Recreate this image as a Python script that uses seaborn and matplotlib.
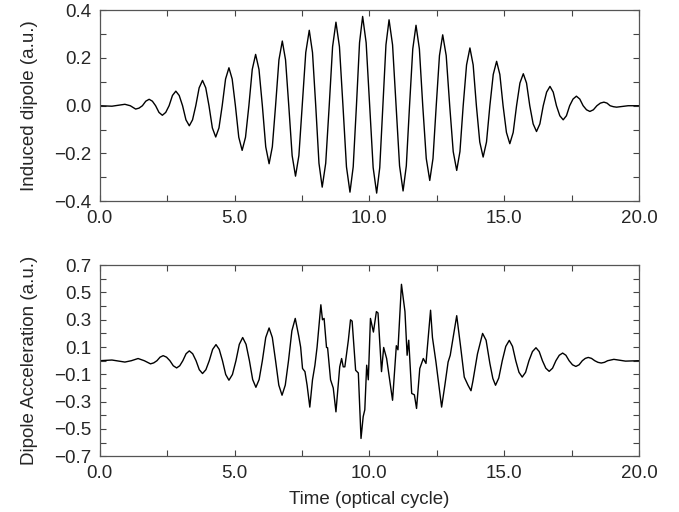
import numpy as np
import pandas as pd
import matplotlib
matplotlib.use('Agg')
import matplotlib.pyplot as plt
import seaborn as sns
from matplotlib.ticker import MultipleLocator, FuncFormatter, FixedLocator

# induced dipole
t_dip = [0.0, 0.45, 0.93, 1.13, 1.33, 1.455, 1.58, 1.705, 1.83, 1.95, 2.07, 2.195,
         2.32, 2.445, 2.57, 2.695, 2.82, 2.945, 3.07, 3.195, 3.32, 3.44, 3.56, 3.685,
         3.81, 3.93, 4.05, 4.175, 4.30, 4.42, 4.54, 4.665, 4.79, 4.91, 5.03, 5.155,
         5.28, 5.405, 5.53, 5.655, 5.78, 5.905, 6.03, 6.155, 6.28, 6.40, 6.52, 6.645,
         6.77, 6.89, 7.01, 7.135, 7.26, 7.385, 7.51, 7.64, 7.77, 7.89, 8.01, 8.13,
         8.25, 8.38, 8.51, 8.635, 8.76, 8.89, 9.02, 9.15, 9.28, 9.40, 9.52, 9.635,
         9.75, 9.88, 10.01, 10.14, 10.27, 10.385, 10.50, 10.615, 10.73, 10.86, 10.99, 11.12,
         11.25, 11.37, 11.49, 11.61, 11.73, 11.855, 11.98, 12.11, 12.24, 12.36, 12.48, 12.60,
         12.72, 12.85, 12.98, 13.11, 13.24, 13.36, 13.48, 13.605, 13.73, 13.85, 13.97, 14.095,
         14.22, 14.345, 14.47, 14.595, 14.72, 14.84, 14.96, 15.085, 15.21, 15.335, 15.46, 15.585,
         15.71, 15.83, 15.95, 16.075, 16.20, 16.325, 16.45, 16.575, 16.70, 16.82, 16.94, 17.065,
         17.19, 17.31, 17.43, 17.555, 17.68, 17.805, 17.93, 18.055, 18.18, 18.31, 18.44, 18.57,
         18.70, 18.815, 18.93, 19.05, 19.17, 19.6, 20.0]
dipole = [0.0, -0.002, 0.006, 0.0, -0.014, -0.010, 0.0, 0.019, 0.027, 0.019, 0.0, -0.028,
          -0.040, -0.028, 0.0, 0.043, 0.061, 0.043, 0.0, -0.059, -0.084, -0.059, 0.0, 0.075,
          0.106, 0.075, 0.0, -0.093, -0.131, -0.093, 0.0, 0.112, 0.159, 0.112, 0.0, -0.132,
          -0.187, -0.132, 0.0, 0.152, 0.215, 0.152, 0.0, -0.172, -0.243, -0.172, 0.0, 0.192,
          0.271, 0.192, 0.0, -0.209, -0.295, -0.209, 0.0, 0.223, 0.316, 0.223, 0.0, -0.241,
          -0.341, -0.241, 0.0, 0.247, 0.350, 0.247, 0.0, -0.256, -0.362, -0.256, 0.0, 0.264,
          0.374, 0.264, 0.0, -0.259, -0.366, -0.259, 0.0, 0.255, 0.360, 0.255, 0.0, -0.252,
          -0.357, -0.252, 0.0, 0.238, 0.337, 0.238, 0.0, -0.221, -0.313, -0.221, 0.0, 0.210,
          0.297, 0.210, 0.0, -0.192, -0.271, -0.192, 0.0, 0.171, 0.242, 0.171, 0.0, -0.152,
          -0.215, -0.152, 0.0, 0.131, 0.186, 0.131, 0.0, -0.112, -0.159, -0.112, 0.0, 0.095,
          0.134, 0.095, 0.0, -0.076, -0.108, -0.076, 0.0, 0.057, 0.081, 0.057, 0.0, -0.042,
          -0.059, -0.042, 0.0, 0.028, 0.040, 0.028, 0.0, -0.017, -0.024, -0.017, 0.0, 0.011,
          0.015, 0.011, 0.0, -0.004, -0.006, 0.0, 0.0]

# dipole acceleration
t_acc = [0.0, 0.45, 0.93, 1.17, 1.42, 1.65, 1.88, 2.0, 2.12, 2.235, 2.35, 2.475,
         2.60, 2.725, 2.85, 2.965, 3.08, 3.20, 3.32, 3.445, 3.57, 3.69, 3.81, 3.935,
         4.06, 4.185, 4.31, 4.43, 4.55, 4.67, 4.79, 4.92, 5.05, 5.175, 5.30, 5.425,
         5.55, 5.67, 5.79, 5.91, 6.03, 6.155, 6.28, 6.40, 6.52, 6.64, 6.76, 6.88,
         7.00, 7.125, 7.25, 7.38, 7.45, 7.52, 7.61, 7.69, 7.79, 7.89,
         7.98, 8.06, 8.20, 8.26, 8.32, 8.41, 8.45, 8.56, 8.66, 8.76, 8.84, 8.90,
         8.97, 9.03, 9.09, 9.22, 9.30, 9.36, 9.49, 9.59, 9.69, 9.77, 9.83, 9.90,
         9.96, 10.04, 10.15, 10.26, 10.32, 10.45, 10.53, 10.64, 10.86, 11.00,
         11.06, 11.19, 11.32, 11.40, 11.46, 11.57, 11.67, 11.75, 11.87, 12.00,
         12.10, 12.27, 12.34, 12.47, 12.68, 12.80, 12.92, 13.00, 13.24, 13.38,
         13.52, 13.66, 13.77, 13.84, 14.01, 14.20, 14.33, 14.47, 14.58, 14.68, 14.80, 14.93,
         15.06, 15.19, 15.31, 15.43, 15.55, 15.67, 15.795, 15.92, 16.05, 16.18, 16.30, 16.42,
         16.545, 16.67, 16.795, 16.92, 17.045, 17.17, 17.29, 17.41, 17.535, 17.66, 17.78, 17.90,
         18.01, 18.12, 18.24, 18.36, 18.48, 18.60, 18.72, 18.84, 19.07, 19.50, 20.0]
accel = [0.0, 0.005, -0.010, 0.0, 0.016, 0.0, -0.023, -0.016, 0.0, 0.026, 0.037, 0.026,
         0.0, -0.037, -0.053, -0.037, 0.0, 0.051, 0.072, 0.051, 0.0, -0.066, -0.094, -0.066,
         0.0, 0.083, 0.118, 0.083, 0.0, -0.101, -0.143, -0.101, 0.0, 0.120, 0.170, 0.120,
         0.0, -0.138, -0.195, -0.138, 0.0, 0.170, 0.240, 0.170, 0.0, -0.179, -0.253, -0.179,
         0.0, 0.219, 0.310, 0.180, 0.100, -0.057, -0.080, -0.180, -0.340, -0.140,
         -0.033, 0.100, 0.410, 0.300, 0.310, 0.097, 0.095, -0.140, -0.200, -0.375, -0.190, -0.045,
         0.016, -0.045, -0.045, 0.150, 0.300, 0.290, -0.070, -0.090, -0.570, -0.410, -0.360, -0.033,
         -0.140, 0.310, 0.210, 0.360, 0.350, -0.080, 0.097, 0.016, -0.290, 0.110,
         0.080, 0.560, 0.360, 0.040, 0.150, -0.240, -0.250, -0.350, -0.057, 0.016,
         -0.020, 0.370, 0.170, -0.010, -0.340, -0.180, -0.010, 0.040, 0.330, 0.110,
         -0.120, -0.180, -0.220, -0.150, 0.050, 0.200, 0.150, -0.020, -0.130, -0.180, -0.127, 0.0,
         0.105, 0.149, 0.105, 0.0, -0.085, -0.120, -0.085, 0.0, 0.067, 0.095, 0.067, 0.0,
         -0.055, -0.078, -0.055, 0.0, 0.040, 0.056, 0.040, 0.0, -0.030, -0.042, -0.030, 0.0,
         0.017, 0.024, 0.017, 0.0, -0.012, -0.017, -0.012, 0.0, 0.010, -0.003, 0.0]

sns.set_style('ticks')
plt.rcParams['font.family'] = ['Liberation Sans', 'DejaVu Sans']

fmt = FuncFormatter(lambda v, pos: ('%.1f' % v).replace('-', '\u2212'))

fig = plt.figure(figsize=(6.79, 5.12), dpi=100)
ax1 = fig.add_axes([0.147, 0.607, 0.794, 0.373])
ax2 = fig.add_axes([0.147, 0.109, 0.794, 0.373])

sns.lineplot(x=t_dip, y=dipole, ax=ax1, color='black', lw=1.0, estimator=None)
sns.lineplot(x=t_acc, y=accel, ax=ax2, color='black', lw=1.0, estimator=None)

for ax in (ax1, ax2):
    ax.set_xlim(0, 20)
    ax.xaxis.set_major_locator(MultipleLocator(5))
    ax.xaxis.set_minor_locator(MultipleLocator(2.5))
    ax.xaxis.set_major_formatter(fmt)
    ax.yaxis.set_major_formatter(fmt)
    ax.tick_params(which='both', direction='in', top=True, right=True,
                   labelsize=13.5, color='#444444', width=0.8)
    ax.tick_params(which='major', length=4, pad=6)
    ax.tick_params(which='minor', length=4)
    for s in ax.spines.values():
        s.set_color('#555555')
        s.set_linewidth(0.9)

ax1.set_ylim(-0.4, 0.4)
ax1.yaxis.set_major_locator(MultipleLocator(0.2))
ax1.yaxis.set_minor_locator(MultipleLocator(0.1))
ax1.set_ylabel('Induced dipole (a.u.)', fontsize=13.5, labelpad=12)

ax2.set_ylim(-0.7, 0.7)
ax2.yaxis.set_major_locator(FixedLocator([-0.7, -0.5, -0.3, -0.1, 0.1, 0.3, 0.5, 0.7]))
ax2.yaxis.set_minor_locator(FixedLocator([-0.6, -0.4, -0.2, 0.0, 0.2, 0.4, 0.6]))
ax2.set_ylabel('Dipole Acceleration (a.u.)', fontsize=13.5, labelpad=12)
ax2.set_xlabel('Time (optical cycle)', fontsize=13.5, labelpad=7)

fig.savefig('out.png', dpi=100)
